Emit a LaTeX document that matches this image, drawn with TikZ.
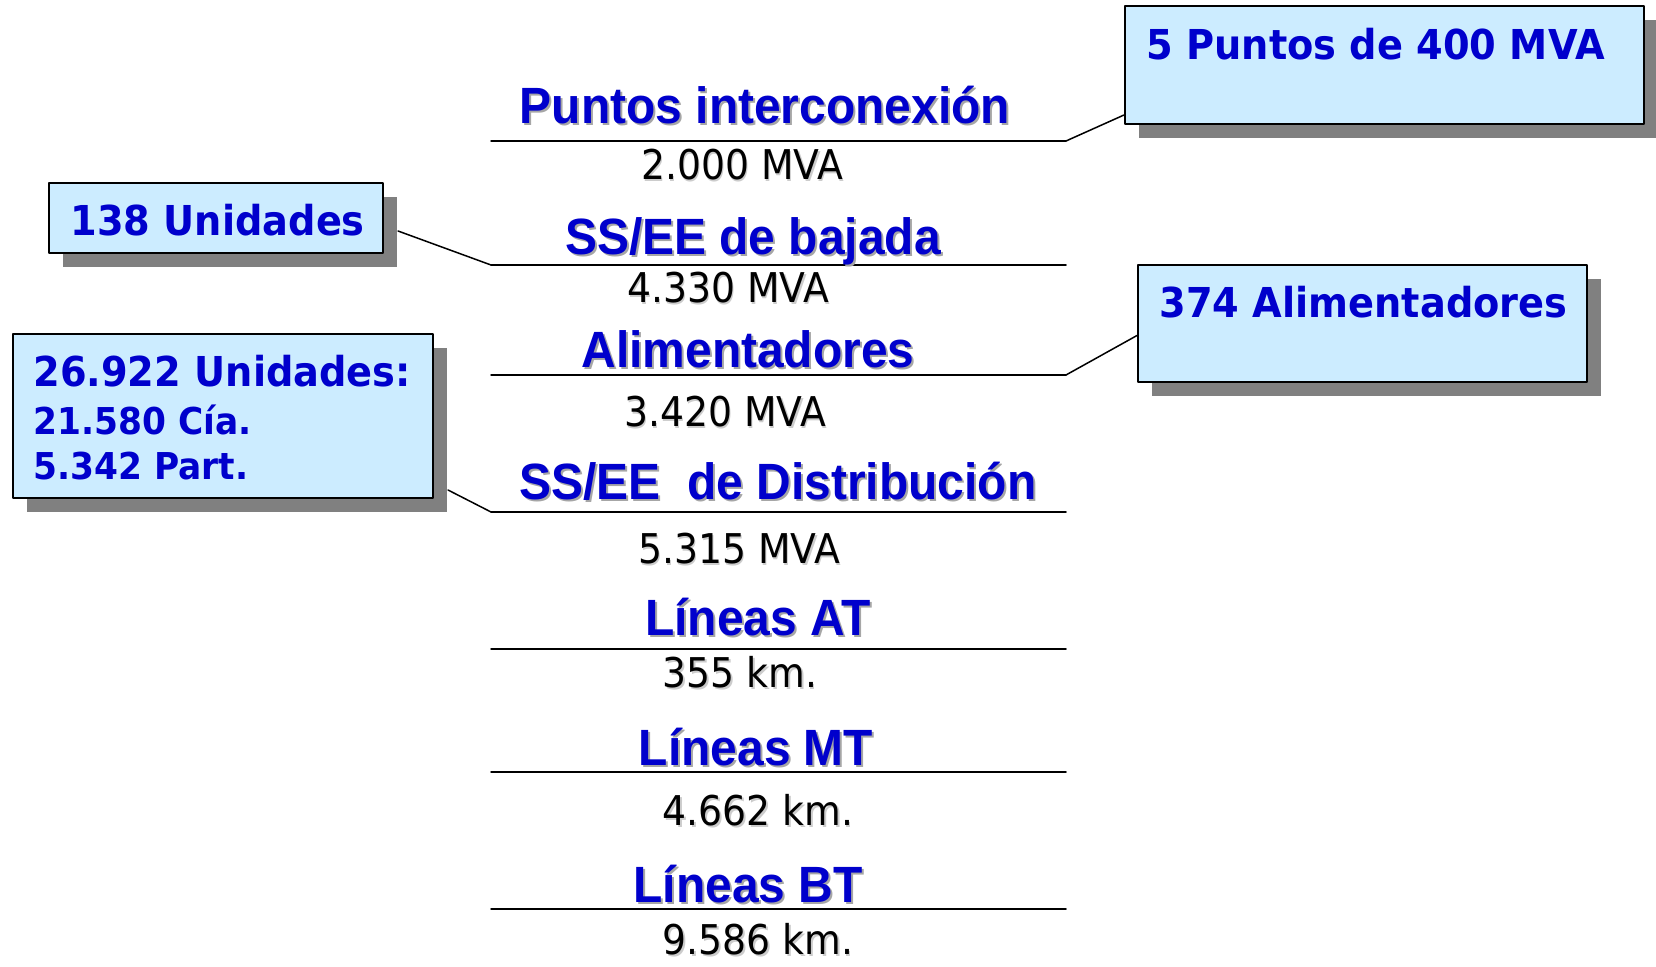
\documentclass[tikz,border=0pt]{standalone}
\usepackage{fontspec}
\usetikzlibrary{shadows}
\newfontfamily\titfont[FakeStretch=0.94]{Liberation Sans}
\newfontfamily\valfont[FakeStretch=0.92]{DejaVu Sans}
\newfontfamily\cajafont[FakeStretch=0.93]{DejaVu Sans}
\definecolor{azul}{HTML}{0000CC}
\definecolor{celeste}{HTML}{CCECFF}
\definecolor{sombra}{HTML}{808080}
\tikzset{
  titulo/.style={anchor=base,inner sep=0pt,text=azul,font={\titfont\bfseries\fontsize{25.5}{30}\selectfont}},
  valor/.style={anchor=base,inner sep=0pt,text=black,font={\valfont\fontsize{20.5}{24}\selectfont}},
  sombratxt/.style={text=black!35},
  caja/.style={draw=black,line width=1pt,fill=celeste,inner sep=0pt,
    drop shadow={shadow xshift=7pt,shadow yshift=-7pt,fill=sombra,opacity=1}},
  cajatxt/.style={anchor=base west,inner sep=0pt,text=azul,font={\cajafont\bfseries\fontsize{20.6}{24}\selectfont}},
  cajachico/.style={cajatxt,font={\cajafont\bfseries\fontsize{18.5}{22}\selectfont}},
  raya/.style={line width=0.75pt}
}
\begin{document}
\begin{tikzpicture}[x=0.5pt,y=-0.5pt,line cap=round,line join=round]
  \useasboundingbox (0,0) rectangle (1656,967);
  % rayas horizontales
  \foreach \i/\y in {1/141,2/265,3/375,4/512,5/649,6/772,7/909}{
    \coordinate (l\i i) at (491,\y);
    \coordinate (l\i d) at (1066,\y);
    \draw[raya] (l\i i) -- (l\i d);
  }
  % titulos
  \foreach \i/\x/\y/\t in {1/765/124/{Puntos interconexión},2/753/255/{SS/EE de bajada},
      3/748/368/{Alimentadores},4/778/500/{SS/EE\ \ de Distribución},5/758/636/{Líneas AT},
      6/756/766/{Líneas MT},7/748/903/{Líneas BT}}{
    \node[titulo,sombratxt] at ([shift={(1pt,-1pt)}]\x,\y) {\t};
    \node[titulo] (tit\i) at (\x,\y) {\t};
  }
  % valores
  \foreach \i/\x/\y/\t in {1/742/180/{2.000 MVA},2/728/303/{4.330 MVA},3/725/427/{3.420 MVA},
      4/739/564/{5.315 MVA},5/740/688/{355 km.},6/758/826/{4.662 km.},7/758/955/{9.586 km.}}{
    \node[valor,sombratxt,text=black!20] at ([shift={(0.8pt,-0.8pt)}]\x,\y) {\t};
    \node[valor] (val\i) at (\x,\y) {\t};
  }
  % cajas
  \node[caja,minimum width=259.5pt,minimum height=59pt] (cajaPuntos) at (1384.5,65) {};
  \node[cajatxt] (txtPuntos) at (1146,60) {5 Puntos de 400 MVA};
  \node[caja,minimum width=167pt,minimum height=35pt] (caja138) at (216,218) {};
  \node[cajatxt] (txt138) at (70,236) {138 Unidades};
  \node[caja,minimum width=224.5pt,minimum height=58.5pt] (cajaAlim) at (1362.5,323.5) {};
  \node[cajatxt] (txtAlim) at (1159,318) {374 Alimentadores};
  \node[caja,minimum width=210pt,minimum height=82pt] (cajaUnid) at (223,416) {};
  \node[cajatxt] (txtUnid) at (33,387) {26.922 Unidades:};
  \node[cajachico] (txtCia) at (33,435) {21.580 Cía.};
  \node[cajachico] (txtPart) at (33,480) {5.342 Part.};
  % conectores
  \draw[raya] (l1d) -- ([yshift=5pt]cajaPuntos.south west);
  \draw[raya] (l2i) -- ([xshift=7pt,yshift=-6.5pt]caja138.east);
  \draw[raya] (l3d) -- ([yshift=-6pt]cajaAlim.west);
  \draw[raya] (l4i) -- ([xshift=7pt,yshift=4.5pt]cajaUnid.south east);
\end{tikzpicture}
\end{document}
